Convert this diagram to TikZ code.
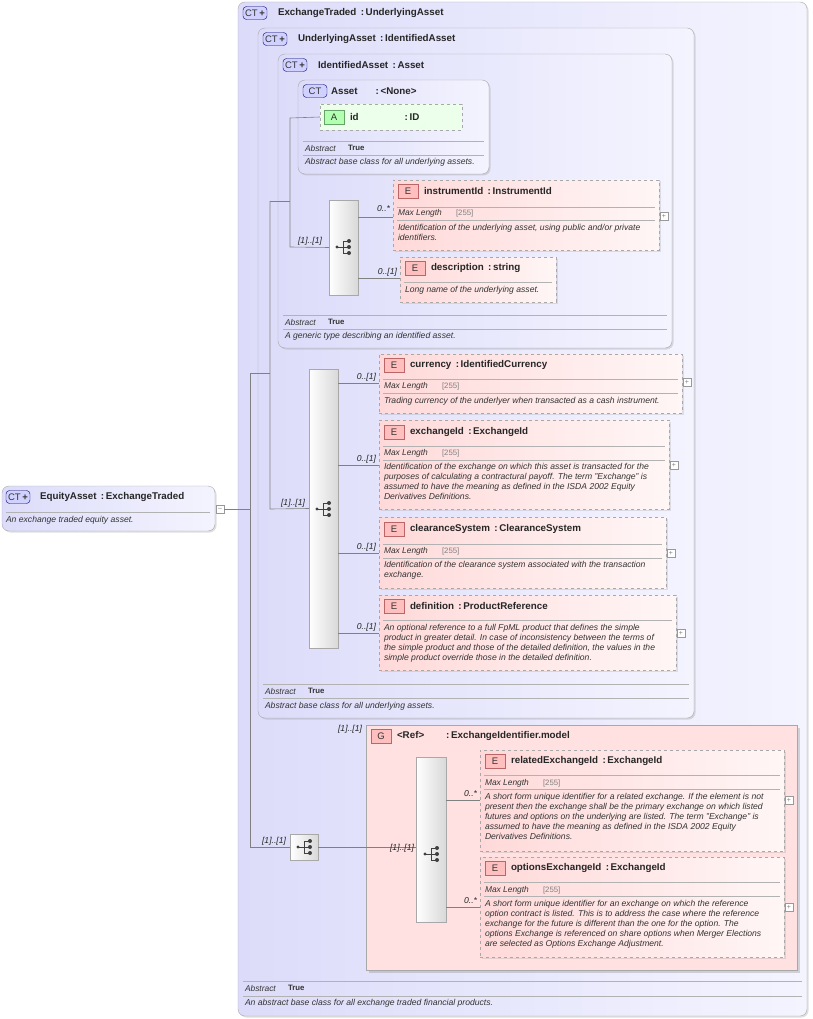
\documentclass[tikz,border=0pt]{standalone}
\usepackage{fontspec}
\setmainfont{Liberation Sans}
\usetikzlibrary{fit,shadows}
\definecolor{lav}{HTML}{DCDCFA}
\definecolor{lavR}{HTML}{F4F4FF}
\definecolor{pinkL}{HTML}{FFD9D9}
\definecolor{pinkR}{HTML}{FFF6F6}
\definecolor{bord}{HTML}{A8A8A8}
\tikzset{
 every node/.style={inner sep=0pt,outer sep=0pt},
 ct/.style={draw=bord,rounded corners=7pt,left color=lav,right color=lavR,drop shadow={opacity=0.25,shadow xshift=1.5pt,shadow yshift=-1.5pt}},
 elem/.style={draw=bord,dashed,left color=pinkL,right color=pinkR,drop shadow={opacity=0.2,shadow xshift=1.5pt,shadow yshift=-1.5pt}},
 grp/.style={draw=bord,fill=pinkL!80,drop shadow={opacity=0.3,shadow xshift=2.5pt,shadow yshift=-2.5pt}},
 seq/.style={draw=bord,left color=white,right color=black!15},
 ttl/.style={font=\fontsize{9.8}{11}\selectfont\bfseries,anchor=west,text=black!85},
 dsc/.style={font=\fontsize{8.6}{10}\selectfont\itshape,anchor=north west,align=left,text=black!80,yshift=-2pt},
 ml/.style={font=\fontsize{8.4}{9}\selectfont\itshape,anchor=west,text=black!80},
 card/.style={font=\fontsize{8.6}{9}\selectfont\itshape,text=black!85},
 div/.style={draw=black!30,line width=0.6pt},
 con/.style={draw=black!50,line width=0.6pt},
 ctb/.style={draw=black!55!blue,fill=blue!18,rounded corners=3.5pt,minimum width=24pt,minimum height=13pt,font=\fontsize{9.5}{10}\selectfont,text=black!80,anchor=west},
 eb/.style={draw=red!55!black!60,fill=red!25,minimum width=20pt,minimum height=14pt,font=\fontsize{9.5}{10}\selectfont,text=black!80,anchor=west},
 ab/.style={draw=green!40!black!60,fill=green!30,minimum width=20pt,minimum height=14pt,font=\fontsize{9.5}{10}\selectfont,text=black!80,anchor=west},
 pbox/.style={draw=black!40,fill=white,minimum size=8pt,font=\fontsize{7}{7}\selectfont,text=black!50},
 pics/seqicon/.style={code={
  \fill[black!75] (-7,0) circle (1.6);
  \draw[black!75,line width=0.8pt] (-7,0)--(-1,0) (-1,-6)--(-1,6) (-1,-6)--(5,-6) (-1,6)--(5,6) (-1,0)--(5,0);
  \fill[black!75] (5,-6) circle (2) (5,0) circle (2) (5,6) circle (2);}}
}
\newcommand\cl{\ \,:\,}
\newcommand\ctbadge[2]{\node[ctb] at (#1,#2) {CT\,\raisebox{-0.3pt}{\textbf{+}}};}
\newcommand\maxl[2]{\node[ml] at (#1,#2) {Max Length}; \node[ml,font=\fontsize{7.8}{8}\selectfont,text=black!50] at (#1+58,#2) {[255]};}
\newcommand\abstr[2]{\node[ml] at (#1,#2) {Abstract}; \node[ml,font=\fontsize{7.8}{8}\selectfont\bfseries] at (#1+43,#2) {True};}
\begin{document}
\begin{tikzpicture}[x=1pt,y=-1pt]
\useasboundingbox (0,0) rectangle (812,1019);
% ---------- boxes
\node[ct,fit={(238,2)(807,1016)}] (xt) {};
\node[ct,fit={(258,28)(694,718)}] (ua) {};
\node[ct,fit={(278,54)(672,348)}] (ia) {};
\node[ct,fit={(298,80)(489,174)}] (as) {};
\node[ct,fit={(2,486)(215,531)}] (eq) {};
% EquityAsset
\ctbadge{6}{497}
\node[ttl] at (40,497) {EquityAsset\cl ExchangeTraded};
\draw[div] (6,512)--(210,512);
\node[dsc] at (6,514) {An exchange traded equity asset.};
\node[pbox] (mn) at (220,509) {--};
% ExchangeTraded
\ctbadge{243}{13}
\node[ttl] at (278,13) {ExchangeTraded\cl UnderlyingAsset};
\draw[div] (243,981)--(802,981); \abstr{245}{988}
\draw[div] (243,996)--(802,996);
\node[dsc] at (245,997) {An abstract base class for all exchange traded financial products.};
% UnderlyingAsset
\ctbadge{263}{39}
\node[ttl] at (298,39) {UnderlyingAsset\cl IdentifiedAsset};
\draw[div] (263,684)--(689,684); \abstr{265}{691}
\draw[div] (263,698)--(689,698);
\node[dsc] at (265,700) {Abstract base class for all underlying assets.};
% IdentifiedAsset
\ctbadge{283}{65}
\node[ttl] at (318,65) {IdentifiedAsset\cl Asset};
\draw[div] (283,315)--(667,315); \abstr{285}{322}
\draw[div] (283,329)--(667,329);
\node[dsc] at (285,330) {A generic type describing an identified asset.};
% Asset
\node[ctb] at (303,91) {CT};
\node[ttl] at (331,91) {Asset\hspace{18pt}:\,<None>};
\node[draw=bord,dashed,fill=green!8,fit={(320,104)(462,130)}] (id) {};
\node[ab] at (324,117) {A};
\node[ttl] at (350,117) {id\hspace{46pt}:\,ID};
\draw[div] (303,141)--(484,141); \abstr{305}{148}
\draw[div] (303,155)--(484,155);
\node[dsc] at (305,156) {Abstract base class for all underlying assets.};
% ---------- sequence 1
\node[seq,fit={(329,200)(358,295)}] (s1) {};
\pic at (344,247) {seqicon};
\node[elem,fit={(393,180)(659,250)}] (ins) {};
\node[eb] at (398,191) {E};
\node[ttl] at (424,191) {instrumentId\cl InstrumentId};
\draw[div] (397,207)--(655,207); \maxl{398}{213}
\draw[div] (397,220)--(655,220);
\node[dsc] at (398,222) {Identification of the underlying asset, using public and/or private\\identifiers.};
\node[pbox] at (664,216) {+};
\node[elem,fit={(400,257)(556,302)}] (des) {};
\node[eb] at (405,268) {E};
\node[ttl] at (431,268) {description\cl string};
\draw[div] (404,282)--(552,282);
\node[dsc] at (405,284) {Long name of the underlying asset.};
% ---------- sequence 2
\node[seq,fit={(309,369)(338,648)}] (s2) {};
\pic at (324,509) {seqicon};
\node[elem,fit={(379,354)(682,413)}] (cur) {};
\node[eb] at (384,365) {E};
\node[ttl] at (410,365) {currency\cl IdentifiedCurrency};
\draw[div] (383,379)--(678,379); \maxl{384}{386}
\draw[div] (383,393)--(678,393);
\node[dsc] at (384,395) {Trading currency of the underlyer when transacted as a cash instrument.};
\node[pbox] at (687,382) {+};
\node[elem,fit={(379,420)(669,509)}] (exi) {};
\node[eb] at (384,432) {E};
\node[ttl] at (410,432) {exchangeId\cl ExchangeId};
\draw[div] (383,446)--(665,446); \maxl{384}{453}
\draw[div] (383,460)--(665,460);
\node[dsc] at (384,461) {Identification of the exchange on which this asset is transacted for the\\purposes of calculating a contractural payoff. The term "Exchange" is\\assumed to have the meaning as defined in the ISDA 2002 Equity\\Derivatives Definitions.};
\node[pbox] at (674,465) {+};
\node[elem,fit={(379,517)(666,588)}] (cls) {};
\node[eb] at (384,529) {E};
\node[ttl] at (410,529) {clearanceSystem\cl ClearanceSystem};
\draw[div] (383,544)--(662,544); \maxl{384}{551}
\draw[div] (383,558)--(662,558);
\node[dsc] at (384,559) {Identification of the clearance system associated with the transaction\\exchange.};
\node[pbox] at (671,553) {+};
\node[elem,fit={(379,595)(676,670)}] (def) {};
\node[eb] at (384,606) {E};
\node[ttl] at (410,606) {definition\cl ProductReference};
\draw[div] (383,620)--(672,620);
\node[dsc] at (384,622) {An optional reference to a full FpML product that defines the simple\\product in greater detail. In case of inconsistency between the terms of\\the simple product and those of the detailed definition, the values in the\\simple product override those in the detailed definition.};
\node[pbox] at (681,633) {+};
% ---------- group
\node[seq,fit={(290,834)(318,860)}] (s3) {};
\pic at (305,847) {seqicon};
\node[grp,fit={(366,725)(797,970)}] (g) {};
\node[eb] at (371,736) {G};
\node[ttl] at (397,736) {<Ref>\hspace{22pt}:\,ExchangeIdentifier.model};
\node[card,anchor=east] at (362,729) {[1]..[1]};
\node[seq,fit={(416,757)(446,922)}] (s4) {};
\pic at (432,854) {seqicon};
\node[elem,fit={(480,750)(784,851)}] (rel) {};
\node[eb] at (485,761) {E};
\node[ttl] at (511,761) {relatedExchangeId\cl ExchangeId};
\draw[div] (484,775)--(780,775); \maxl{485}{783}
\draw[div] (484,789)--(780,789);
\node[dsc] at (485,791) {A short form unique identifier for a related exchange. If the element is not\\present then the exchange shall be the primary exchange on which listed\\futures and options on the underlying are listed. The term "Exchange" is\\assumed to have the meaning as defined in the ISDA 2002 Equity\\Derivatives Definitions.};
\node[pbox] at (789,800) {+};
\node[elem,fit={(480,857)(784,957)}] (opt) {};
\node[eb] at (485,868) {E};
\node[ttl] at (511,868) {optionsExchangeId\cl ExchangeId};
\draw[div] (484,882)--(780,882); \maxl{485}{890}
\draw[div] (484,896)--(780,896);
\node[dsc] at (485,898) {A short form unique identifier for an exchange on which the reference\\option contract is listed. This is to address the case where the reference\\exchange for the future is different than the one for the option. The\\options Exchange is referenced on share options when Merger Elections\\are selected as Options Exchange Adjustment.};
\node[pbox] at (789,907) {+};
% ---------- connectors
\coordinate (j1) at (250,509);
\coordinate (j2) at (270,373);
\coordinate (j3) at (290,201);
\draw[con] (mn.east)--(j1);
\draw[con] (250,373)--(250,847)--(s3.west);
\draw[con] (250,373)--(j2);
\draw[con] (270,201)--(270,509)--(s2.west);
\draw[con] (270,201)--(j3);
\draw[con] (290,118)--(290,247)--(s1.west);
\draw[con] (290,118)--(id.west);
\draw[con] (s1.east |- 0,217)--(ins.west |- 0,217);
\draw[con] (s1.east |- 0,278)--(des.west |- 0,278);
\draw[con] (s2.east |- 0,383)--(cur.west |- 0,383);
\draw[con] (s2.east |- 0,465)--(exi.west |- 0,465);
\draw[con] (s2.east |- 0,553)--(cls.west |- 0,553);
\draw[con] (s2.east |- 0,633)--(def.west |- 0,633);
\draw[con] (s3.east)--(s4.west |- s3.east);
\draw[con] (s4.east |- 0,800)--(rel.west |- 0,800);
\draw[con] (s4.east |- 0,907)--(opt.west |- 0,907);
% cardinalities
\node[card,anchor=east] at (322,241) {[1]..[1]};
\node[card,anchor=east] at (390,209) {0..*};
\node[card,anchor=east] at (397,272) {0..[1]};
\node[card,anchor=east] at (305,503) {[1]..[1]};
\node[card,anchor=east] at (376,377) {0..[1]};
\node[card,anchor=east] at (376,459) {0..[1]};
\node[card,anchor=east] at (376,547) {0..[1]};
\node[card,anchor=east] at (376,627) {0..[1]};
\node[card,anchor=east] at (286,841) {[1]..[1]};
\node[card,anchor=east] at (414,848) {[1]..[1]};
\node[card,anchor=east] at (477,794) {0..*};
\node[card,anchor=east] at (477,901) {0..*};
\end{tikzpicture}
\end{document}
